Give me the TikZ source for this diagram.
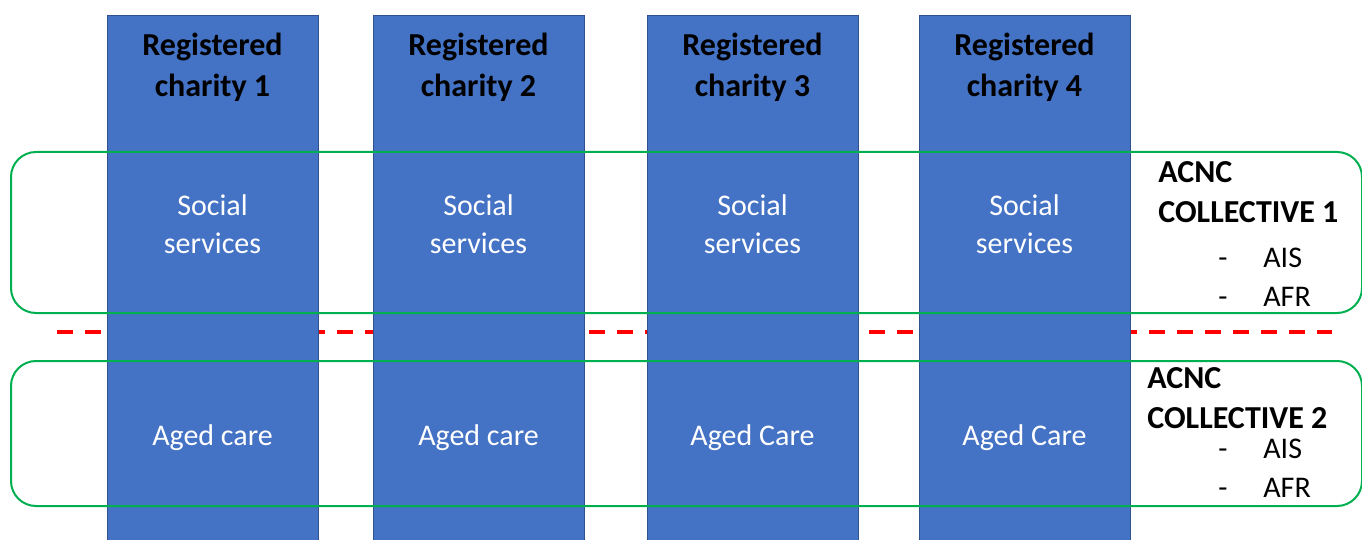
\documentclass[tikz,border=0pt]{standalone}
\usepackage{fontspec}
\setmainfont{Carlito}
\usepackage{xcolor}
\usepackage{tikz}
\definecolor{colblue}{HTML}{4472C4}
\definecolor{coledge}{HTML}{2F528F}
\definecolor{grpgreen}{HTML}{00B050}
\definecolor{cutred}{HTML}{FF0000}
\tikzset{charity/.style={rectangle,fill=colblue,draw=coledge,line width=0.5pt,
        minimum width=105.5pt,minimum height=265pt,inner sep=0pt},
    headtext/.style={align=center,font=\fontsize{16}{20.5}\selectfont\bfseries,text=black},
    areatext/.style={align=center,font=\fontsize{15}{19}\selectfont,text=white},
    groupbox/.style={draw=grpgreen,line width=1pt,rounded corners=12.5pt},
    divider/.style={draw=cutred,line width=2pt,dash pattern=on 8pt off 6pt},
    grouptitle/.style={anchor=west,align=left,font=\fontsize{16}{20}\selectfont\bfseries,inner sep=0pt},
    reportlist/.style={anchor=west,align=left,font=\fontsize{15}{19.5}\selectfont,inner sep=0pt}}

\begin{document}
\begin{tikzpicture}[x=0.5pt,y=-0.5pt]
            \useasboundingbox (0,0) rectangle (1362,540);
            % cut line behind the columns
            \coordinate (cutL) at (57,332);
            \coordinate (cutR) at (1332,332);
            \draw[divider] (cutL) -- (cutR);
            % charities
            \node[charity] (c1) at (212.5,280.6) {};
            \node[charity] (c2) at (478.5,280.6) {};
            \node[charity] (c3) at (752.5,280.6) {};
            \node[charity] (c4) at (1024.5,280.6) {};
            \node[headtext] (h1) at (c1.center |- 0,67.5) {Registered\\charity 1};
            \node[headtext] (h2) at (c2.center |- 0,67.5) {Registered\\charity 2};
            \node[headtext] (h3) at (c3.center |- 0,67.5) {Registered\\charity 3};
            \node[headtext] (h4) at (c4.center |- 0,67.5) {Registered\\charity 4};
            \node[areatext] (s1) at (c1.center |- 0,224) {Social\\services};
            \node[areatext] (s2) at (c2.center |- 0,224) {Social\\services};
            \node[areatext] (s3) at (c3.center |- 0,224) {Social\\services};
            \node[areatext] (s4) at (c4.center |- 0,224) {Social\\services};
            \node[areatext] (a1) at (c1.center |- 0,438) {Aged care};
            \node[areatext] (a2) at (c2.center |- 0,438) {Aged care};
            \node[areatext] (a3) at (c3.center |- 0,438) {Aged Care};
            \node[areatext] (a4) at (c4.center |- 0,438) {Aged Care};
            % collectives
            \draw[groupbox] (11,152) rectangle (1362,313);
            \draw[groupbox] (11,361) rectangle (1362,506);
            \node[grouptitle] (g1) at (1158,192) {ACNC\\COLLECTIVE 1};
            \node[reportlist] (r1) at (1218,277.5) {\makebox[22.5pt][l]{-}AIS\\\makebox[22.5pt][l]{-}AFR};
            \node[grouptitle] (g2) at (1147,398) {ACNC\\COLLECTIVE 2};
            \node[reportlist] (r2) at (1218,468) {\makebox[22.5pt][l]{-}AIS\\\makebox[22.5pt][l]{-}AFR};
        \end{tikzpicture}
\end{document}
